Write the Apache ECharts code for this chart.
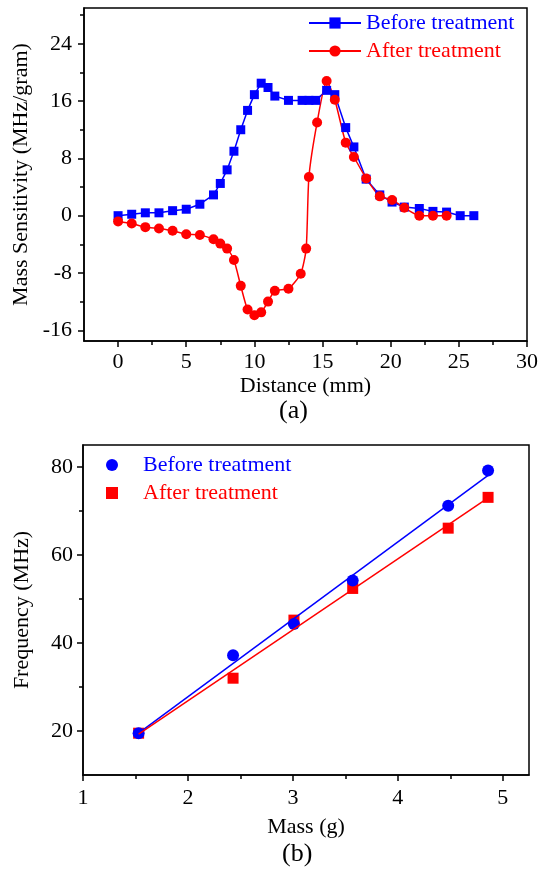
<!DOCTYPE html>
<html>
<head>
<meta charset="utf-8">
<script src="https://cdn.jsdelivr.net/npm/echarts@6/dist/echarts.min.js"></script>
<style>
  html, body { margin: 0; padding: 0; background: #fff; }
  #chart { width: 542px; height: 871px; }
</style>
</head>
<body>
<div id="chart"></div>
<script>
// (a) mass sensitivity vs distance
var distBefore = [0, 1, 2, 3, 4, 5, 6, 7, 7.5, 8, 8.5, 9, 9.5, 10, 10.5, 11, 11.5, 12.5, 13.5, 14, 14.5, 15.3, 15.9, 16.7, 17.3, 18.2, 19.2, 20.1, 21, 22.1, 23.1, 24.1, 25.1, 26.1];
var sensBefore = [0, 0.2, 0.4, 0.4, 0.7, 0.9, 1.6, 2.9, 4.5, 6.4, 9.0, 12.0, 14.7, 16.9, 18.5, 17.9, 16.7, 16.1, 16.1, 16.1, 16.1, 17.5, 16.9, 12.3, 9.6, 5.1, 2.9, 1.9, 1.2, 1.0, 0.6, 0.5, 0, 0];
var distAfter = [0, 1, 2, 3, 4, 5, 6, 7, 7.5, 8, 8.5, 9, 9.5, 10, 10.5, 11, 11.5, 12.5, 13.4, 13.8, 14, 14.6, 15.3, 15.9, 16.7, 17.3, 18.2, 19.2, 20.1, 21, 22.1, 23.1, 24.1];
var sensAfter = [-0.8, -1.1, -1.6, -1.8, -2.1, -2.6, -2.7, -3.3, -3.9, -4.6, -6.2, -9.8, -13.1, -13.9, -13.5, -12.0, -10.5, -10.2, -8.1, -4.6, 5.4, 13.0, 18.8, 16.2, 10.2, 8.2, 5.2, 2.7, 2.2, 1.1, 0, 0, 0];

// (b) frequency vs mass
var mass = [1.53, 2.43, 3.01, 3.57, 4.48, 4.86];
var freqBefore = [19.5, 37.2, 44.3, 54.2, 71.2, 79.2];
var freqAfter = [19.5, 32.0, 45.2, 52.4, 66.1, 73.1];
var fitMass = [1.53, 4.86];
var fitBefore = [19.5, 78.1];
var fitAfter = [19.3, 73.0];

// tick labels
var ticksA_x = [0, 5, 10, 15, 20, 25, 30];
var minorA_x = [2.5, 7.5, 12.5, 17.5, 22.5, 27.5];
var ticksA_y = [-16, -8, 0, 8, 16, 24];
var minorA_y = [-12, -4, 4, 12, 20, 28];
var ticksB_x = [1, 2, 3, 4, 5];
var minorB_x = [1.5, 2.5, 3.5, 4.5];
var ticksB_y = [20, 40, 60, 80];
var minorB_y = [30, 50, 70];

function zip(xs, ys) {
  var out = [];
  for (var i = 0; i < xs.length; i++) out.push([xs[i], ys[i]]);
  return out;
}

var FONT = 'Liberation Serif';
var BLUE = '#0000ff';
var RED = '#ff0000';
var axisLine = { show: true, onZero: false, lineStyle: { color: '#000', width: 1.5 } };
var labelStyle = { color: '#000', fontFamily: FONT, fontSize: 22 };

function majorAxis(grid, pos, min, max, ticks, margin, extra) {
  var a = {
    type: 'value', gridIndex: grid, position: pos, min: min, max: max,
    axisLine: axisLine,
    axisTick: { show: true, length: 6, customValues: ticks, lineStyle: { color: '#000', width: 1.5 } },
    axisLabel: Object.assign({ customValues: ticks, margin: margin }, labelStyle),
    splitLine: { show: false }
  };
  return Object.assign(a, extra || {});
}
function minorAxis(grid, pos, min, max, ticks) {
  return {
    type: 'value', gridIndex: grid, position: pos, min: min, max: max,
    axisLine: { show: false, onZero: false },
    axisTick: { show: true, length: 4, customValues: ticks, lineStyle: { color: '#000', width: 1.5 } },
    axisLabel: { show: false },
    splitLine: { show: false }
  };
}

var nameStyle = { color: '#000', fontFamily: FONT, fontSize: 22 };

var chart = echarts.init(document.getElementById('chart'));
chart.setOption({
  backgroundColor: '#fff',
  animation: false,
  grid: [
    { left: 84, top: 8, width: 443, height: 333, show: true, borderColor: '#000', borderWidth: 1.5 },
    { left: 83, top: 445, width: 446, height: 330, show: true, borderColor: '#000', borderWidth: 1.5 }
  ],
  xAxis: [
    majorAxis(0, 'bottom', -2.5, 30, ticksA_x, 10, { name: 'Distance (mm)', nameLocation: 'middle', nameGap: 34, nameTextStyle: nameStyle }),
    minorAxis(0, 'bottom', -2.5, 30, minorA_x),
    majorAxis(1, 'bottom', 1, 5.25, ticksB_x, 12, { name: 'Mass (g)', nameLocation: 'middle', nameGap: 41, nameTextStyle: nameStyle }),
    minorAxis(1, 'bottom', 1, 5.25, minorB_x)
  ],
  yAxis: [
    majorAxis(0, 'left', -17.5, 29, ticksA_y, 12, { name: 'Mass Sensitivity (MHz/gram)', nameLocation: 'middle', nameGap: 50, nameTextStyle: nameStyle }),
    minorAxis(0, 'left', -17.5, 29, minorA_y),
    majorAxis(1, 'left', 10, 85, ticksB_y, 10, { name: 'Frequency (MHz)', nameLocation: 'middle', nameGap: 50, nameTextStyle: nameStyle }),
    minorAxis(1, 'left', 10, 85, minorB_y)
  ],
  legend: [
    {
      left: 308, top: 12, padding: 0, orient: 'vertical', itemGap: 6, itemWidth: 52, itemHeight: 14,
      textStyle: { fontFamily: FONT, fontSize: 22 },
      data: [
        { name: 'Before treatment', textStyle: { color: BLUE } },
        { name: 'After treatment', textStyle: { color: RED } }
      ]
    },
    {
      left: 106, top: 454, padding: 0, orient: 'vertical', itemGap: 6, itemWidth: 12, itemHeight: 12,
      textStyle: { fontFamily: FONT, fontSize: 22, padding: [0, 0, 0, 20] },
      data: [
        { name: 'Before treatment', icon: 'circle', textStyle: { color: BLUE } },
        { name: 'After treatment', icon: 'rect', textStyle: { color: RED } }
      ]
    }
  ],
  graphic: [
    { type: 'text', left: 279, top: 398, style: { text: '(a)', font: '26px "Liberation Serif"', fill: '#000' } },
    { type: 'text', left: 282, top: 841, style: { text: '(b)', font: '26px "Liberation Serif"', fill: '#000' } }
  ],
  series: [
    {
      name: 'Before treatment', type: 'line', xAxisIndex: 0, yAxisIndex: 0,
      data: zip(distBefore, sensBefore),
      symbol: 'rect', symbolSize: 9,
      lineStyle: { color: BLUE, width: 1.5 }, itemStyle: { color: BLUE }
    },
    {
      name: 'After treatment', type: 'line', xAxisIndex: 0, yAxisIndex: 0,
      data: zip(distAfter, sensAfter),
      symbol: 'circle', symbolSize: 10, smooth: 0.2,
      lineStyle: { color: RED, width: 1.5 }, itemStyle: { color: RED }
    },
    {
      name: 'Before fit', type: 'line', xAxisIndex: 2, yAxisIndex: 2,
      data: zip(fitMass, fitBefore), symbol: 'none',
      lineStyle: { color: BLUE, width: 1.5 }
    },
    {
      name: 'After fit', type: 'line', xAxisIndex: 2, yAxisIndex: 2,
      data: zip(fitMass, fitAfter), symbol: 'none',
      lineStyle: { color: RED, width: 1.5 }
    },
    {
      name: 'After treatment', type: 'scatter', xAxisIndex: 2, yAxisIndex: 2,
      data: zip(mass, freqAfter), symbol: 'rect', symbolSize: 11,
      itemStyle: { color: RED, opacity: 1 }
    },
    {
      name: 'Before treatment', type: 'scatter', xAxisIndex: 2, yAxisIndex: 2,
      data: zip(mass, freqBefore), symbol: 'circle', symbolSize: 12,
      itemStyle: { color: BLUE, opacity: 1 }
    }
  ]
});
</script>
</body>
</html>
